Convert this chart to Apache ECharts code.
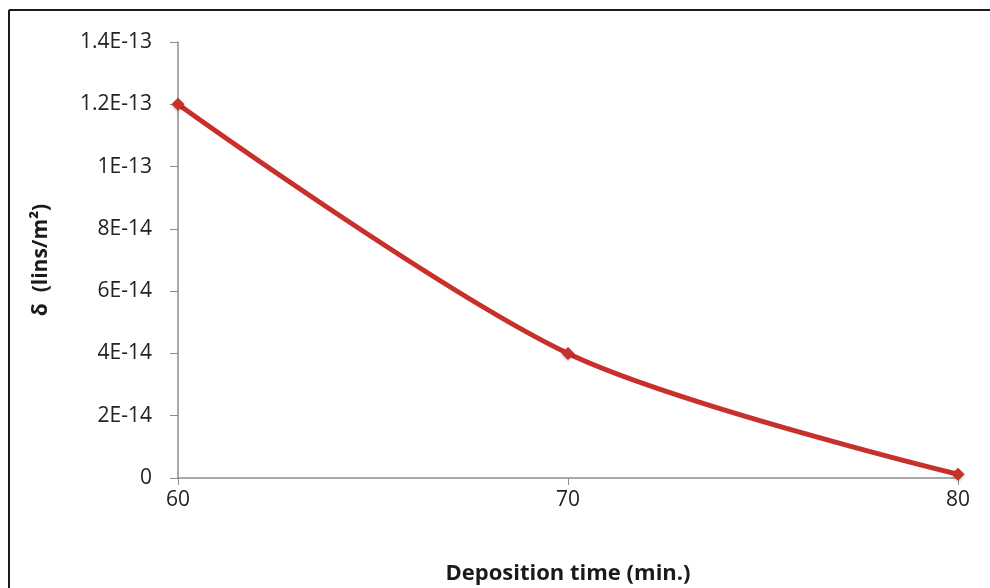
<!DOCTYPE html>
<html>
<head>
<meta charset="utf-8">
<script src="https://cdn.jsdelivr.net/npm/echarts@6/dist/echarts.min.js"></script>
<style>
  html, body { margin: 0; padding: 0; background: #fff; }
  #chart { width: 990px; height: 588px; }
</style>
</head>
<body>
<div id="chart"></div>
<script>
const times = [60, 70, 80];
const delta = [1.2e-13, 4e-14, 1.2e-15];
const xTicks = [60, 70, 80];

const chart = echarts.init(document.getElementById("chart"));

// Excel-like scientific labels: 1.4E-13, 1E-13, 8E-14 ...
function sci(v) {
  if (v === 0) return "0";
  const n = parseFloat(v.toPrecision(3));
  return n.toExponential().replace("e", "E").replace("+", "");
}

chart.setOption({
  animation: false,
  grid: { left: 178, right: 32, top: 42, bottom: 110, outerBoundsMode: "none" },
  graphic: [
    // frame of the chart (only top and left edges are visible)
    { type: "line", shape: { x1: 9, y1: 10, x2: 990, y2: 10 }, style: { stroke: "#1a1a1a", lineWidth: 2 } },
    { type: "line", shape: { x1: 9, y1: 10, x2: 9, y2: 588 }, style: { stroke: "#1a1a1a", lineWidth: 2 } },
  ],
  xAxis: {
    type: "value",
    min: xTicks[0],
    max: xTicks[xTicks.length - 1],
    interval: 10,
    name: "Deposition time (min.)",
    nameLocation: "middle",
    nameGap: 85,
    nameTextStyle: { fontFamily: "Open Sans", fontSize: 22, fontWeight: "bold", color: "#1a1a1a" },
    splitLine: { show: false },
    axisLine: { lineStyle: { color: "#8c8c8c", width: 1.5 } },
    axisTick: { show: true, length: 7, lineStyle: { color: "#8c8c8c" } },
    axisLabel: { fontFamily: "Open Sans", fontSize: 21, color: "#222", margin: 12 },
  },
  yAxis: {
    type: "value",
    min: 0,
    max: 1.4e-13,
    interval: 2e-14,
    name: "δ  (lins/m²)",
    nameLocation: "middle",
    nameGap: 126,
    nameRotate: 90,
    nameTextStyle: { fontFamily: "Open Sans", fontSize: 21, fontWeight: "bold", color: "#1a1a1a" },
    splitLine: { show: false },
    axisLine: { show: true, lineStyle: { color: "#8c8c8c", width: 1.5 } },
    axisTick: { show: true, length: 8, lineStyle: { color: "#8c8c8c" } },
    axisLabel: { fontFamily: "Open Sans", fontSize: 21, color: "#222", margin: 26, formatter: sci },
  },
  series: [
    {
      type: "line",
      data: times.map((t, i) => [t, delta[i]]),
      smooth: 0.3,
      symbol: "diamond",
      symbolSize: 13,
      lineStyle: { color: "#c8302c", width: 5 },
      itemStyle: { color: "#c8302c", shadowColor: "rgba(0,0,0,0.3)", shadowBlur: 3, shadowOffsetY: 1 },
    },
  ],
});
</script>
</body>
</html>
